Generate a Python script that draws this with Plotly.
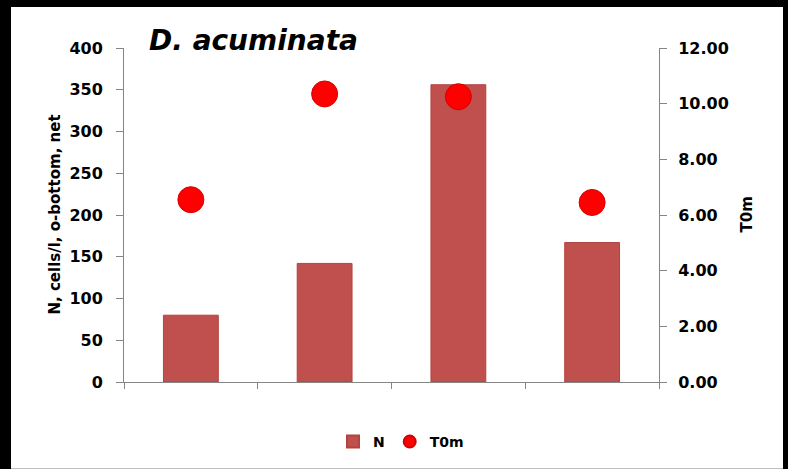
import plotly.graph_objects as go

categories = ["1", "2", "3", "4"]
n_values = [80, 142, 356, 167]
t0m_values = [6.55, 10.35, 10.25, 6.45]
left_ticks = [0, 50, 100, 150, 200, 250, 300, 350, 400]
right_ticks = [0, 2, 4, 6, 8, 10, 12]
right_tick_labels = ["0.00", "2.00", "4.00", "6.00", "8.00", "10.00", "12.00"]

FONT = "DejaVu Sans"
AX = "#868686"

fig = go.Figure()
fig.add_trace(go.Bar(
    x=categories, y=n_values, name="N", width=0.41,
    marker=dict(color="#C0504D", line=dict(color="#B4433F", width=1)),
    yaxis="y",
))
fig.add_trace(go.Scatter(
    x=categories, y=t0m_values, name="T0m", mode="markers",
    marker=dict(color="#FF0000", size=26, line=dict(color="#D40000", width=1)),
    yaxis="y2",
))

L, R, T, B = 124, 129, 48, 86
W, H = 788, 469
pw, ph = W - L - R, H - T - B

def px_x(p):
    return (p - L) / pw

def px_y(p):
    return (H - B - p) / ph

fig.update_layout(
    width=W, height=H,
    margin=dict(l=L, r=R, t=T, b=B, pad=0),
    paper_bgcolor="black",
    plot_bgcolor="rgba(0,0,0,0)",
    font=dict(family=FONT, color="black", size=15),
    showlegend=True,
    xaxis=dict(
        type="category", showticklabels=False, ticks="outside", tickson="boundaries",
        ticklen=6, tickcolor=AX, showline=True, linecolor=AX, linewidth=1,
        showgrid=False, zeroline=False,
    ),
    yaxis=dict(
        range=[0, 400], tickvals=left_ticks, ticks="outside", ticklen=7, tickcolor=AX,
        showline=True, linecolor=AX, linewidth=1, showgrid=False, zeroline=False,
        tickfont=dict(family=FONT, size=16, color="black", weight="bold"),
        ticklabelstandoff=10,
    ),
    yaxis2=dict(
        range=[0, 12], tickvals=right_ticks, ticktext=right_tick_labels, overlaying="y",
        side="right", ticks="outside", ticklen=7, tickcolor=AX,
        showline=True, linecolor=AX, linewidth=1, showgrid=False, zeroline=False,
        tickfont=dict(family=FONT, size=16, color="black", weight="bold"),
        ticklabelstandoff=8,
    ),
    legend=dict(
        orientation="h", x=px_x(401), xanchor="center", y=px_y(442), yanchor="middle",
        font=dict(family=FONT, size=14, color="black", weight="bold"),
        bgcolor="rgba(0,0,0,0)", itemwidth=30, itemsizing="constant",
        tracegroupgap=0,
    ),
    shapes=[dict(
        type="rect", xref="paper", yref="paper", layer="below",
        x0=px_x(11), x1=px_x(783), y0=px_y(470), y1=px_y(7),
        fillcolor="white", line=dict(width=0),
    )],
    annotations=[
        dict(text="<b><i>D. acuminata</i></b>", xref="paper", yref="paper",
             x=px_x(147), y=px_y(40), xanchor="left", yanchor="middle", showarrow=False,
             font=dict(family=FONT, size=28, color="black")),
        dict(text="<b>N, cells/l, o-bottom, net</b>", xref="paper", yref="paper",
             x=px_x(55), y=px_y(215), xanchor="center", yanchor="middle", showarrow=False,
             textangle=-90, font=dict(family=FONT, size=15, color="black")),
        dict(text="<b>T0m</b>", xref="paper", yref="paper",
             x=px_x(747), y=px_y(215), xanchor="center", yanchor="middle", showarrow=False,
             textangle=-90, font=dict(family=FONT, size=15, color="black")),
    ],
)

fig.write_html(
    "out.html",
    config={"displayModeBar": False},
    post_script="document.body.style.margin='0';document.body.style.background='black';",
)
